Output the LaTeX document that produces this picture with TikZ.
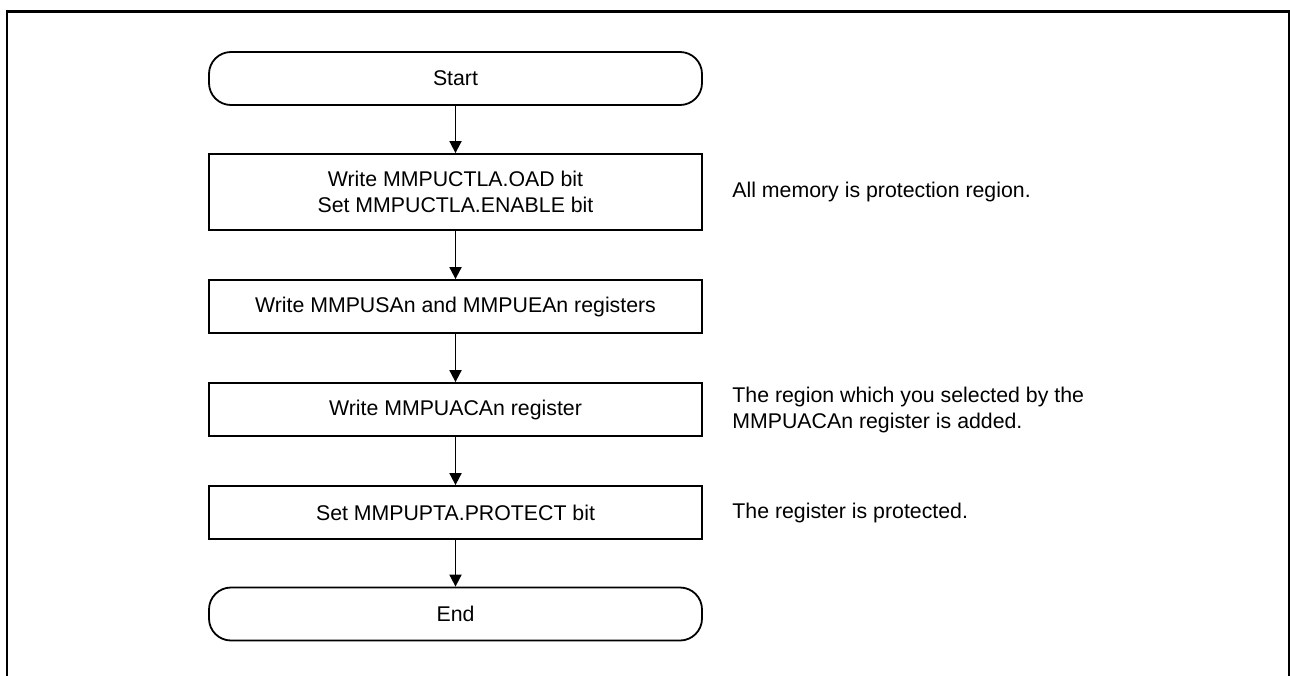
\documentclass[tikz,border=0pt]{standalone}
\usepackage{fontspec}
\setmainfont{Liberation Sans}
\usetikzlibrary{arrows.meta,positioning}
\tikzset{
 mmpu frame/.style={line width=1.2pt},
 mmpu box/.style={draw,line width=0.9pt,minimum width=246.5pt,minimum height=26.5pt,
                  align=center,inner sep=0pt},
 mmpu term/.style={mmpu box,rounded corners=11pt},
 mmpu note/.style={anchor=west,align=left,inner sep=0pt},
 mmpu arrow/.style={line width=0.9pt,-{Triangle[length=6pt,width=6pt]}}
}

\begin{document}
\begin{tikzpicture}[x=0.5pt,y=-0.5pt,font=\fontsize{10.65}{13}\selectfont]
 \useasboundingbox (0,0) rectangle (1290,675);
 \draw[mmpu frame] (7,676) -- (7,11.5) -- (1289.5,11.5) -- (1289.5,676);

 \node[mmpu term] (start) at (455.5,78.5) {Start};
 \node[mmpu box,minimum height=38pt] (ctla) at (455.5,192) {Write MMPUCTLA.OAD bit\\Set MMPUCTLA.ENABLE bit};
 \node[mmpu box] (addr) at (455.5,306.5) {Write MMPUSAn and MMPUEAn registers};
 \node[mmpu box] (acc) at (455.5,409.5) {Write MMPUACAn register};
 \node[mmpu box] (prot) at (455.5,512.5) {Set MMPUPTA.PROTECT bit};
 \node[mmpu term] (stop) at (455.5,614) {End};

 \foreach \a/\b in {start/ctla,ctla/addr,addr/acc,acc/prot,prot/stop}
  \draw[mmpu arrow] (\a) -- (\b);

 \node[mmpu note] (ctla note) at (732,192) {All memory is protection region.};
 \node[mmpu note] (acc note) at (732,409.5) {The region which you selected by the\\MMPUACAn register is added.};
 \node[mmpu note] (prot note) at (732,512.5) {The register is protected.};
\end{tikzpicture}
\end{document}
